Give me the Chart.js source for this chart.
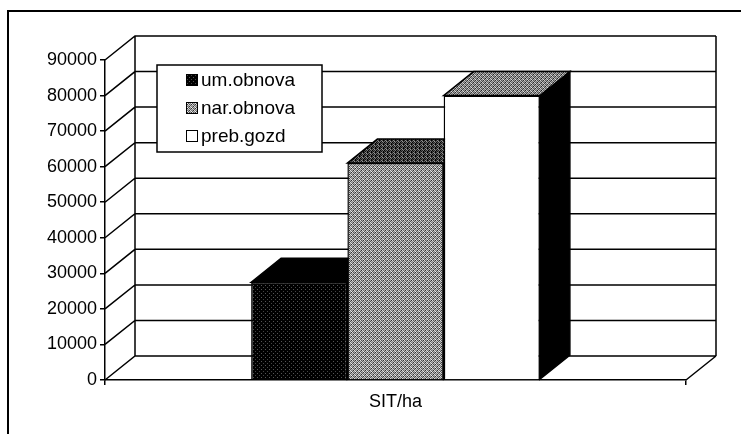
<!DOCTYPE html>
<html>
<head>
<meta charset="utf-8">
<script src="https://cdn.jsdelivr.net/npm/chart.js@4.4.1/dist/chart.umd.min.js"></script>
<style>
  html, body { margin: 0; padding: 0; background: #fff; }
  canvas { display: block; }
</style>
</head>
<body>
<canvas id="chart" width="741" height="434"></canvas>
<script>
// Data
const categories = ['SIT/ha'];
const seriesNames = ['um.obnova', 'nar.obnova', 'preb.gozd'];
const umObnova = [27500];
const narObnova = [61000];
const prebGozd = [80000];
const yMin = 0;
const yMax = 90000;
const yStep = 10000;

// 3D depth of the plot
const DX = 30, DY = 24;
const FONT = { family: "'Liberation Sans', Arial, sans-serif", size: 18 };

function makePattern(rows) {
    const c = document.createElement('canvas');
    c.width = rows[0].length;
    c.height = rows.length;
    const g = c.getContext('2d');
    rows.forEach((row, yy) => row.forEach((col, xx) => {
        g.fillStyle = col;
        g.fillRect(xx, yy, 1, 1);
    }));
    return g.createPattern(c, 'repeat');
}

const darkFront = makePattern([
    ['#000', '#000', '#000', '#000'],
    ['#000', '#555', '#000', '#000'],
    ['#000', '#000', '#000', '#000'],
    ['#000', '#000', '#000', '#444']
]);
const greyFront = makePattern([
    ['#ddd', '#555', '#aaa', '#333'],
    ['#888', '#ccc', '#555', '#bbb'],
    ['#aaa', '#333', '#ddd', '#777'],
    ['#555', '#bbb', '#888', '#eee']
]);
const greyTop = makePattern([
    ['#222', '#888', '#444', '#000'],
    ['#666', '#111', '#999', '#333'],
    ['#000', '#555', '#222', '#777'],
    ['#444', '#111', '#666', '#000']
]);
const lightTop = makePattern([
    ['#ccc', '#555', '#999', '#333'],
    ['#777', '#bbb', '#444', '#aaa'],
    ['#999', '#222', '#ccc', '#666'],
    ['#444', '#aaa', '#777', '#ddd']
]);

const frontFill = [darkFront, greyFront, '#fff'];
const topFill = ['#000', greyTop, lightTop];
const sideFill = ['#000', '#000', '#000'];

const threeD = {
    id: 'threeD',
    beforeDraw(chart) {
        const ctx = chart.ctx;
        ctx.save();
        ctx.fillStyle = '#fff';
        ctx.fillRect(0, 0, chart.width, chart.height);
        // outer frame
        ctx.strokeStyle = '#000';
        ctx.lineWidth = 2;
        ctx.beginPath();
        ctx.moveTo(8, chart.height);
        ctx.lineTo(8, 11);
        ctx.lineTo(chart.width, 11);
        ctx.stroke();
        ctx.restore();
    },
    beforeDatasetsDraw(chart) {
        const { ctx, chartArea: a, scales: { x, y } } = chart;
        ctx.save();
        ctx.strokeStyle = '#000';
        ctx.lineWidth = 1.5;

        // side wall diagonals + back wall gridlines
        ctx.beginPath();
        y.ticks.forEach(t => {
            const py = y.getPixelForValue(t.value);
            ctx.moveTo(a.left, py);
            ctx.lineTo(a.left + DX, py - DY);
            ctx.lineTo(a.right + DX, py - DY);
        });
        const top = y.getPixelForValue(y.max) - DY;
        const bot = y.getPixelForValue(y.min) - DY;
        ctx.moveTo(a.left + DX, top);
        ctx.lineTo(a.left + DX, bot);
        ctx.moveTo(a.right + DX, top);
        ctx.lineTo(a.right + DX, bot);
        // floor right edge
        ctx.moveTo(a.right, a.bottom);
        ctx.lineTo(a.right + DX, a.bottom - DY);
        ctx.stroke();

        // bar tops and sides
        chart.data.datasets.forEach((ds, i) => {
            chart.getDatasetMeta(i).data.forEach(bar => {
                const p = bar.getProps(['x', 'y', 'base', 'width'], true);
                const l = p.x - p.width / 2, r = p.x + p.width / 2;
                ctx.beginPath();
                ctx.moveTo(r, p.y);
                ctx.lineTo(r + DX, p.y - DY);
                ctx.lineTo(r + DX, p.base - DY);
                ctx.lineTo(r, p.base);
                ctx.closePath();
                ctx.fillStyle = sideFill[i];
                ctx.fill();
                ctx.stroke();

                ctx.beginPath();
                ctx.moveTo(l, p.y);
                ctx.lineTo(l + DX, p.y - DY);
                ctx.lineTo(r + DX, p.y - DY);
                ctx.lineTo(r, p.y);
                ctx.closePath();
                ctx.fillStyle = topFill[i];
                ctx.fill();
                ctx.stroke();
            });
        });
        ctx.restore();
    },
    afterDraw(chart) {
        // legend box inside the plot
        const ctx = chart.ctx;
        ctx.save();
        ctx.fillStyle = '#fff';
        ctx.strokeStyle = '#000';
        ctx.lineWidth = 1.5;
        ctx.fillRect(157, 65, 165, 87);
        ctx.strokeRect(157, 65, 165, 87);
        ctx.font = '19px ' + FONT.family;
        ctx.textBaseline = 'middle';
        ctx.textAlign = 'left';
        chart.data.datasets.forEach((ds, i) => {
            const cy = 80 + i * 28;
            ctx.fillStyle = frontFill[i];
            ctx.fillRect(186, cy - 6, 12, 12);
            ctx.lineWidth = 1;
            ctx.strokeRect(186.5, cy - 5.5, 11, 11);
            ctx.fillStyle = '#000';
            ctx.fillText(ds.label, 201, cy + 1);
        });
        ctx.restore();
    }
};

new Chart(document.getElementById('chart'), {
    type: 'bar',
    data: {
        labels: categories,
        datasets: [
            { label: seriesNames[0], data: umObnova, backgroundColor: frontFill[0] },
            { label: seriesNames[1], data: narObnova, backgroundColor: frontFill[1] },
            { label: seriesNames[2], data: prebGozd, backgroundColor: frontFill[2] }
        ]
    },
    options: {
        responsive: false,
        animation: false,
        devicePixelRatio: 1,
        layout: { padding: { top: 60, right: 55, left: 0, bottom: 0 } },
        datasets: {
            bar: {
                borderColor: '#000',
                borderWidth: 1.5,
                barPercentage: 1,
                categoryPercentage: 0.497
            }
        },
        plugins: {
            legend: { display: false },
            tooltip: { enabled: false }
        },
        scales: {
            x: {
                grid: { display: true, drawOnChartArea: false, drawTicks: true, tickLength: 5, color: '#000', lineWidth: 1.5 },
                border: { display: true, color: '#000', width: 1.5 },
                ticks: { color: '#000', font: FONT, padding: 6 },
                afterFit(scale) { scale.height = 54; }
            },
            y: {
                min: yMin,
                max: yMax,
                grid: { display: true, drawOnChartArea: false, drawTicks: true, tickLength: 5, color: '#000', lineWidth: 1.5 },
                border: { display: true, color: '#000', width: 1.5 },
                ticks: { stepSize: yStep, color: '#000', font: FONT, padding: 3, callback: v => String(v) },
                afterFit(scale) { scale.width = 105; }
            }
        }
    },
    plugins: [threeD]
});
</script>
</body>
</html>
